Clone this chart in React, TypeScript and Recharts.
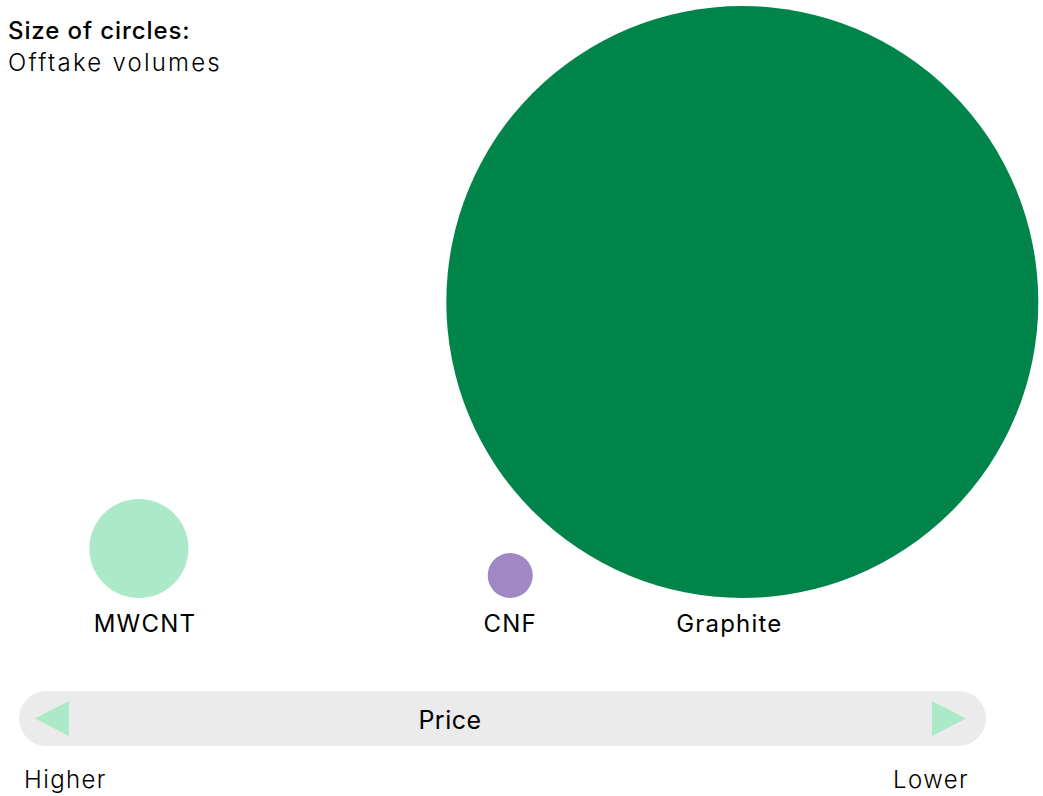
import { Cell, Scatter, ScatterChart, XAxis, YAxis, ZAxis } from "recharts";

const MATERIALS = ["MWCNT", "CNF", "Graphite"];
// relative price index (higher = more expensive, drawn on the left)
const PRICE_INDEX = [87.6, 49.2, 25.2];
// relative offtake volumes (circle area)
const OFFTAKE_VOLUME = [28, 5.8, 1000];

const COLORS = ["#abe9c9", "#9f88c4", "#00844a"];
const LABEL_DX: Record<string, number> = { MWCNT: 6, CNF: 0, Graphite: -13 };

const FONT = "Inter, 'Noto Sans', sans-serif";
const W = 1043;
const H = 796;
const BASE_Y = 598;
const MAX_R = 296;

const data = MATERIALS.map((name, i) => ({
  name,
  price: PRICE_INDEX[i],
  volume: OFFTAKE_VOLUME[i],
  level: 0,
}));

function BubbleShape(props: any) {
  const { cx, cy, size, width, fill, payload } = props;
  const r = size != null ? Math.sqrt(size / Math.PI) : width / 2;
  return (
    <g>
      <circle cx={cx} cy={cy - r} r={r} fill={fill} />
      <text
        x={cx + (LABEL_DX[payload.name] ?? 0)}
        y={cy + 34}
        textAnchor="middle"
        fontFamily={FONT}
        fontSize={24}
        letterSpacing={1.2}
        fill="#000"
      >
        {payload.name}
      </text>
    </g>
  );
}

export default function App() {
  return (
    <div
      style={{
        position: "absolute",
        left: 0,
        top: 0,
        width: W,
        height: H,
        background: "#fff",
        fontFamily: FONT,
        overflow: "hidden",
      }}
    >
      <ScatterChart
        width={W}
        height={BASE_Y + 60}
        margin={{ top: 0, right: W - 986, bottom: 60, left: 19 }}
      >
        <XAxis type="number" dataKey="price" domain={[0, 100]} reversed hide />
        <YAxis type="number" dataKey="level" domain={[0, 1]} hide />
        <ZAxis
          type="number"
          dataKey="volume"
          domain={[0, 1000]}
          range={[0, Math.PI * MAX_R * MAX_R]}
        />
        <Scatter data={data} shape={BubbleShape} isAnimationActive={false}>
          {data.map((d, i) => (
            <Cell key={d.name} fill={COLORS[i]} />
          ))}
        </Scatter>
      </ScatterChart>
      <svg
        width={W}
        height={H}
        style={{ position: "absolute", left: 0, top: 0, pointerEvents: "none" }}
      >
        <text x={8} y={39} fontFamily={FONT} fontSize={24} fontWeight={500} letterSpacing={0.9} fill="#000">
          Size of circles:
        </text>
        <text x={8} y={71} fontFamily={FONT} fontSize={24} fontWeight={300} letterSpacing={2.2} fill="#000">
          Offtake volumes
        </text>
        <rect x={19} y={691} width={967} height={55} rx={27.5} fill="#ebebeb" />
        <polygon points="35,718.5 69,701 69,736" fill="#abe9c9" />
        <polygon points="932,701 932,736 966,718.5" fill="#abe9c9" />
        <text x={450} y={729} textAnchor="middle" fontFamily={FONT} fontSize={25} letterSpacing={0.5} fill="#000">
          Price
        </text>
        <text x={24} y={788} fontFamily={FONT} fontSize={24} fontWeight={300} letterSpacing={1.4} fill="#000">
          Higher
        </text>
        <text x={969} y={788} textAnchor="end" fontFamily={FONT} fontSize={24} fontWeight={300} letterSpacing={1.4} fill="#000">
          Lower
        </text>
      </svg>
    </div>
  );
}
